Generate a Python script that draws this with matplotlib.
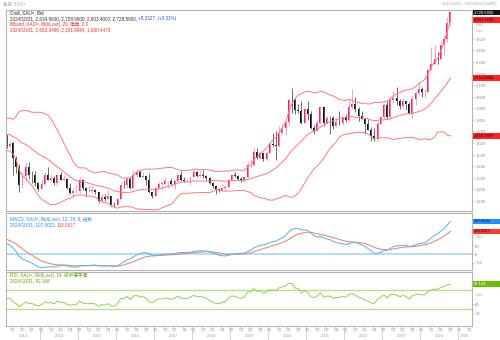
import numpy as np
import pandas as pd
import matplotlib
matplotlib.use('Agg')
import matplotlib.pyplot as plt
from matplotlib.patches import Rectangle
from matplotlib.ticker import FuncFormatter
from matplotlib.transforms import blended_transform_factory

plt.rcParams['font.family'] = ['Liberation Sans', 'Noto Sans CJK SC']

# monthly XAU= bars, 2013/02 .. 2024/10
first_month = '2013-02'
opens = [1663, 1578, 1596, 1472, 1393, 1234, 1312, 1396, 1327, 1323, 1250,
         1202, 1244, 1326, 1284, 1296, 1250, 1327, 1282, 1287, 1210, 1171, 1182,
         1184, 1283, 1213, 1183, 1183, 1190, 1172, 1095, 1133, 1115, 1142, 1065,
         1061, 1118, 1238, 1233, 1293, 1215, 1322, 1351, 1309, 1316, 1277, 1173,
         1146, 1211, 1249, 1249, 1268, 1268, 1242, 1269, 1322, 1280, 1271, 1275,
         1303, 1345, 1318, 1325, 1315, 1298, 1253, 1224, 1201, 1192, 1215, 1222,
         1282, 1321, 1313, 1292, 1284, 1305, 1409, 1413, 1520, 1472, 1513, 1464,
         1517, 1589, 1585, 1577, 1687, 1730, 1781, 1975, 1968, 1886, 1879, 1776,
         1898, 1848, 1734, 1708, 1769, 1907, 1770, 1814, 1813, 1743, 1783, 1774,
         1829, 1796, 1909, 1937, 1896, 1837, 1807, 1766, 1711, 1660, 1633, 1768,
         1824, 1928, 1827, 1969, 1990, 1963, 1919, 1965, 1940, 1849, 1983, 2036,
         2063, 2040, 2044, 2230, 2286, 2327, 2326, 2448, 2503, 2634.96]
highs = [1676, 1617, 1611, 1487, 1417, 1348, 1434, 1434, 1361, 1361, 1267,
         1280, 1345, 1392, 1331, 1315, 1326, 1345, 1323, 1287, 1256, 1208, 1239,
         1308, 1293, 1220, 1225, 1232, 1205, 1180, 1170, 1157, 1191, 1144, 1088,
         1125, 1263, 1283, 1304, 1303, 1362, 1375, 1367, 1352, 1326, 1338, 1180,
         1220, 1264, 1261, 1295, 1270, 1296, 1270, 1331, 1357, 1306, 1299, 1307,
         1366, 1362, 1356, 1366, 1326, 1309, 1265, 1225, 1214, 1243, 1237, 1284,
         1326, 1346, 1324, 1310, 1305, 1439, 1453, 1555, 1557, 1517, 1515, 1523,
         1611, 1689, 1704, 1748, 1765, 1789, 1984, 2075, 1992, 1933, 1966, 1906,
         1959, 1875, 1755, 1798, 1913, 1917, 1834, 1833, 1834, 1814, 1877, 1831,
         1853, 1974, 2070, 1998, 1909, 1879, 1814, 1808, 1735, 1730, 1786, 1833,
         1949, 1960, 2009, 2049, 2082, 1983, 1987, 1966, 1953, 2010, 2052, 2135,
         2088, 2065, 2236, 2432, 2450, 2388, 2484, 2531, 2686, 2728.99]
lows = [1555, 1565, 1321, 1338, 1180, 1208, 1270, 1292, 1251, 1227, 1187,
        1202, 1238, 1277, 1268, 1240, 1240, 1281, 1271, 1206, 1161, 1131, 1170,
        1167, 1191, 1142, 1176, 1170, 1162, 1077, 1080, 1098, 1112, 1053, 1046,
        1061, 1111, 1208, 1208, 1200, 1207, 1310, 1303, 1302, 1241, 1171, 1123,
        1146, 1200, 1194, 1244, 1214, 1236, 1204, 1267, 1271, 1261, 1264, 1236,
        1302, 1307, 1303, 1301, 1282, 1246, 1211, 1160, 1180, 1183, 1196, 1221,
        1276, 1310, 1280, 1266, 1266, 1301, 1382, 1400, 1459, 1459, 1445, 1454,
        1517, 1563, 1451, 1568, 1670, 1671, 1757, 1863, 1849, 1860, 1765, 1775,
        1802, 1717, 1677, 1706, 1765, 1750, 1767, 1681, 1721, 1740, 1759, 1753,
        1780, 1786, 1890, 1872, 1787, 1805, 1681, 1709, 1615, 1617, 1616, 1765,
        1804, 1804, 1810, 1949, 1932, 1893, 1903, 1885, 1847, 1810, 1932, 2017,
        2002, 1985, 2039, 2229, 2277, 2287, 2319, 2364, 2471, 2603.40]
closes = [1578, 1595, 1472, 1393, 1234, 1312, 1396, 1327, 1323, 1250, 1202,
          1244, 1326, 1284, 1296, 1250, 1327, 1282, 1287, 1210, 1171, 1182, 1184,
          1283, 1213, 1183, 1183, 1190, 1172, 1095, 1133, 1115, 1142, 1065, 1061,
          1118, 1238, 1233, 1293, 1215, 1322, 1351, 1309, 1316, 1277, 1173, 1146,
          1211, 1249, 1249, 1268, 1268, 1242, 1269, 1322, 1280, 1271, 1275, 1303,
          1345, 1318, 1325, 1315, 1298, 1253, 1224, 1201, 1192, 1215, 1222, 1282,
          1321, 1313, 1292, 1284, 1305, 1409, 1413, 1520, 1472, 1513, 1464, 1517,
          1589, 1585, 1577, 1687, 1730, 1781, 1975, 1968, 1886, 1879, 1776, 1898,
          1848, 1734, 1708, 1769, 1907, 1770, 1814, 1813, 1743, 1783, 1774, 1829,
          1796, 1909, 1937, 1896, 1837, 1807, 1766, 1711, 1660, 1633, 1768, 1824,
          1928, 1827, 1969, 1990, 1963, 1919, 1965, 1940, 1849, 1983, 2036, 2063,
          2040, 2044, 2230, 2286, 2327, 2326, 2448, 2503, 2635, 2728.58]

# closes 2010/01 .. 2013/01, only used so the indicators are warmed up at the left edge
warmup_close = [1081, 1118, 1113, 1180, 1213, 1244, 1181, 1248, 1307, 1357, 1386, 1421,
                1333, 1410, 1439, 1556, 1536, 1501, 1628, 1826, 1620, 1722, 1746, 1564,
                1738, 1710, 1669, 1664, 1561, 1604, 1614, 1692, 1773, 1719, 1713, 1675,
                1664]

# last values as printed by the chart
last_close = 2728.58
bb_last = [2663.3490, 2161.8984, 1660.4479]
macd_last = [197.9022, 138.0817]
rsi_last = 82.168

price_ticks = list(range(1100, 2600, 100))
macd_ticks = [-50, 0, 50]
rsi_ticks = [20, 40]
rsi_levels = [70, 30]

W, H = 500, 340
UP, DOWN = '#ff1f6e', '#111111'
UP_WICK, DOWN_WICK = '#ff90b6', '#555555'
BB_COL = '#ff7a72'
MACD_COL, SIG_COL = '#5cb4f2', '#f3826f'
RSI_COL, RSI_LVL = '#9fd05a', '#b9e08c'

# indicators
c = pd.Series(warmup_close + closes, dtype=float)
n0 = len(warmup_close)
mid = c.rolling(20).mean()
sd = c.rolling(20).std(ddof=0)
upper = (mid + 2 * sd).values[n0:]
lower = (mid - 2 * sd).values[n0:]
mid = mid.values[n0:]
macd = c.ewm(span=12, adjust=False).mean() - c.ewm(span=26, adjust=False).mean()
signal = macd.ewm(span=9, adjust=False).mean()
macd, signal = macd.values[n0:], signal.values[n0:]
d = c.diff()
g = d.clip(lower=0).ewm(alpha=1 / 14, adjust=False).mean()
ls = (-d.clip(upper=0)).ewm(alpha=1 / 14, adjust=False).mean()
rsi = (100 - 100 / (1 + g / ls)).values[n0:]

fig = plt.figure(figsize=(W / 100, H / 100), dpi=100)


def box(x0, y0, x1, y1):
    return [x0 / W, 1 - y1 / H, (x1 - x0) / W, (y1 - y0) / H]


ax_p = fig.add_axes(box(6, 10, 472, 211))
ax_m = fig.add_axes(box(6, 213, 472, 269.5), sharex=ax_p)
ax_r = fig.add_axes(box(6, 271.5, 472, 326), sharex=ax_p)

x = np.arange(len(closes))
o, h, l, cl = map(np.array, (opens, highs, lows, closes))
up = cl >= o
ax_p.vlines(x[up], l[up], h[up], color=UP_WICK, lw=0.6)
ax_p.vlines(x[~up], l[~up], h[~up], color=DOWN_WICK, lw=0.6)
ax_p.bar(x, np.maximum(np.abs(cl - o), 3), bottom=np.minimum(o, cl), width=0.62,
         color=np.where(up, UP, DOWN), lw=0)
for band in (upper, mid, lower):
    ax_p.plot(x, band, color=BB_COL, lw=0.7)

ax_m.axhline(0, color='#a6d9f2', lw=1.2)
ax_m.plot(x, signal, color=SIG_COL, lw=0.75)
ax_m.plot(x, macd, color=MACD_COL, lw=0.75)

for lv in rsi_levels:
    ax_r.axhline(lv, color=RSI_LVL, lw=1.0)
ax_r.plot(x, rsi, color=RSI_COL, lw=0.75)

ax_p.set_xlim(-0.2, 146.8)
ax_p.set_ylim(1012, 2750)
ax_m.set_ylim(-90, 248)
ax_r.set_ylim(-5.8, 108.9)
ax_p.set_yticks(price_ticks)
ax_p.yaxis.set_major_formatter(FuncFormatter(lambda v, p: f'{v:,.0f}'))
ax_m.set_yticks(macd_ticks)
ax_r.set_yticks(rsi_ticks)

for ax in (ax_p, ax_m, ax_r):
    ax.yaxis.tick_right()
    ax.tick_params(axis='y', labelsize=3.0, labelcolor='#8c8c8c', color='#b0b0b0',
                   length=1.2, width=0.5, pad=1.2)
    ax.tick_params(axis='x', bottom=False, labelbottom=False)
    for s in ax.spines.values():
        s.set_color('#b4b4b4')
        s.set_linewidth(0.8)

r = fig.canvas.get_renderer()


def put(px, py, s, color, size=3.3, ha='left'):
    t = fig.text(px / W, 1 - py / H, s, color=color, fontsize=size, va='center', ha=ha)
    return px + t.get_window_extent(renderer=r).width


def tag(ax, val, s, bg, fg):
    y = ax.transData.transform((0, val))[1]
    fig.add_artist(Rectangle((472.5 / W, (y - 2.8) / H), 27.5 / W, 5.6 / H,
                             transform=fig.transFigure, color=bg, lw=0))
    fig.text(474 / W, y / H, s, color=fg, fontsize=3.0, va='center', ha='left')


# header strip
put(3, 4.5, '每月 XAU=', '#a8a8a8', 3.3)
put(497, 4.5, '2013/2/28 - 2025/3/31 (GMT)', '#a8a8a8', 3.1, ha='right')

# legends
put(9.5, 12.8, 'Cndl, XAU=, Bid', '#222222')
x2 = put(9.5, 18.4, '2024/10/31, 2,634.9600, 2,728.9900, 2,603.4000, 2,728.5800, ', '#333333')
put(x2, 18.4, '+8.3327, (+0.31%)', '#3355dd')
put(9.5, 24.2, 'BBand, XAU=, Bid(Last), 20, 简单, 2.0', '#ff2a2a')
put(9.5, 29.8, '2024/10/31, 2,663.3490, 2,161.8984, 1,660.4479', '#ff2a2a')

put(9.5, 219.8, 'MACD, XAU=, Bid(Last), 12, 26, 9, 指数', '#2a8ff0')
x2 = put(9.5, 225.2, '2024/10/31, 197.9022, ', '#2a8ff0')
put(x2, 225.2, '138.0817', '#ff4a3a')

put(9.5, 275.0, 'RSI, XAU=, Bid(Last), 14, 威尔德平滑', '#5fa800')
put(9.5, 280.4, '2024/10/31, 82.168', '#5fa800')

# right-hand value tags and units
tag(ax_p, last_close, '2,728.5800', '#161616', 'white')
tag(ax_p, bb_last[0], '2,663.3490', '#ff2222', '#3a0000')
tag(ax_p, bb_last[1], '2,161.8984', '#ff2222', '#3a0000')
tag(ax_p, bb_last[2], '1,660.4479', '#ff2222', '#3a0000')
tag(ax_m, macd_last[0], '197.9022', '#1e90ff', '#0a2440')
tag(ax_m, macd_last[1], '138.0817', '#ff3b2f', '#3a0000')
tag(ax_r, rsi_last, '82.168', '#66c000', 'white')
put(475.5, 24.5, 'USD', '#a0a0a0', 3.0)
put(475.5, 30.5, 'Ozs', '#a0a0a0', 3.0)
put(475.5, 237.5, 'Ozs', '#a0a0a0', 3.0)
put(475.5, 295.0, 'Ozs', '#a0a0a0', 3.0)

# quarter / year axis under the RSI panel
tr = blended_transform_factory(ax_r.transData, fig.transFigure)
months = pd.period_range(first_month, periods=147, freq='M')
x0, x1 = ax_p.get_xlim()
for i, m in enumerate(months):
    if m.month in (1, 4, 7, 10):
        ax_r.text(i, 1 - 329.8 / H, f'Q{(m.month - 1) // 3 + 1}', transform=tr,
                  fontsize=3.0, color='#9a9a9a', ha='center', va='center')
        top = 340 if m.month == 1 else 328
        ax_r.plot([i - 0.5, i - 0.5], [1 - 326 / H, 1 - top / H], transform=tr,
                  color='#cfcfcf', lw=0.6, clip_on=False)
for yr in sorted(set(m.year for m in months)):
    idx = [i for i, m in enumerate(months) if m.year == yr]
    lo, hi = max(idx[0] - 0.5, x0), min(idx[-1] + 0.5, x1)
    ax_r.text((lo + hi) / 2, 1 - 335.8 / H, str(yr), transform=tr,
              fontsize=3.0, color='#9a9a9a', ha='center', va='center')

fig.savefig('out.png', dpi=100)
